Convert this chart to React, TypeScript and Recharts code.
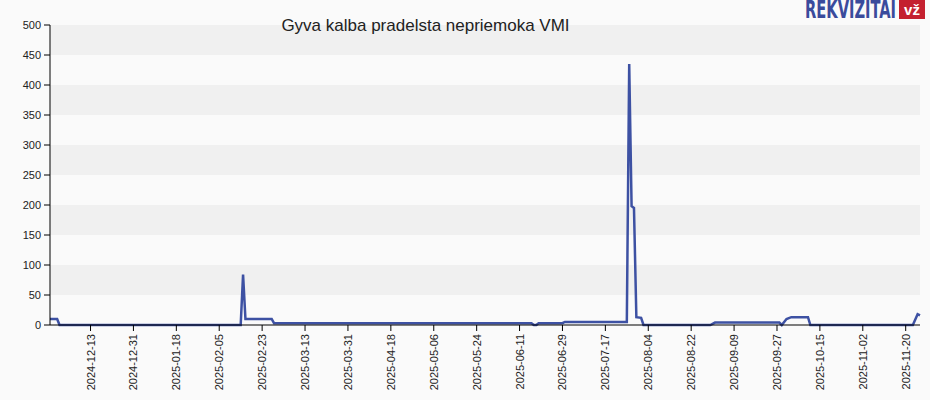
import {CartesianGrid, Line, LineChart, XAxis, YAxis} from "recharts";

const pointDates = [
    '2024-11-26', '2024-11-29', '2024-11-30', '2025-02-14', '2025-02-15', '2025-02-16',
    '2025-02-27', '2025-02-28', '2025-06-16', '2025-06-17', '2025-06-18', '2025-06-19',
    '2025-06-29', '2025-06-30', '2025-07-26', '2025-07-27', '2025-07-28', '2025-07-29',
    '2025-07-30', '2025-08-01', '2025-08-02', '2025-08-30', '2025-09-01', '2025-09-28',
    '2025-09-29', '2025-10-01', '2025-10-03', '2025-10-10', '2025-10-11', '2025-11-23',
    '2025-11-25', '2025-11-26',
];
const debtValues = [
    10, 10, 0, 0, 84, 10,
    10, 3, 3, 0, 0, 3,
    3, 5, 5, 435, 198, 195,
    13, 12, 0, 0, 4, 4,
    0, 10, 13, 13, 0, 0,
    18, 16,
];
const tickDates = [
    '2024-12-13', '2024-12-31', '2025-01-18', '2025-02-05', '2025-02-23', '2025-03-13',
    '2025-03-31', '2025-04-18', '2025-05-06', '2025-05-24', '2025-06-11', '2025-06-29',
    '2025-07-17', '2025-08-04', '2025-08-22', '2025-09-09', '2025-09-27', '2025-10-15',
    '2025-11-02', '2025-11-20',
];
const yTicks = [0, 50, 100, 150, 200, 250, 300, 350, 400, 450, 500];
const rangeStart = '2024-11-26';
const rangeEnd = '2025-11-26';

const toMs = (d: string) => Date.parse(d + 'T00:00:00Z');
const fmtDate = (ms: number) => new Date(ms).toISOString().slice(0, 10);

const data = pointDates.map((d, i) => ({t: toMs(d), value: debtValues[i]}));

const FONT = '"Liberation Sans", Arial, sans-serif';

const DateTick = ({x, y, payload}: any) => (
    <text
        transform={`translate(${x},${y}) rotate(-90)`}
        textAnchor="end"
        dy={4}
        fontSize={11}
        fontFamily={FONT}
        fill="#222"
    >
        {fmtDate(payload.value)}
    </text>
);

export default function App() {
    return (
        <div style={{position: 'absolute', left: 0, top: 0, width: 930, height: 400, background: '#fafafa'}}>
            <LineChart width={930} height={400} data={data} margin={{top: 25, right: 10, bottom: 0, left: 0}}>
                <CartesianGrid vertical={false} stroke="none" horizontalFill={['#f0f0f0', '#fafafa']} />
                <XAxis
                    dataKey="t"
                    type="number"
                    domain={[toMs(rangeStart), toMs(rangeEnd)]}
                    ticks={tickDates.map(toMs)}
                    tick={<DateTick />}
                    tickSize={6}
                    tickMargin={3}
                    height={75}
                    stroke="#000"
                    interval={0}
                />
                <YAxis
                    domain={[0, 500]}
                    ticks={yTicks}
                    width={50}
                    tickSize={6}
                    tickMargin={3}
                    stroke="#000"
                    tick={{fontSize: 11, fontFamily: FONT, fill: '#222'}}
                    interval={0}
                />
                <Line
                    type="linear"
                    dataKey="value"
                    stroke="#3d51a3"
                    strokeWidth={2.5}
                    dot={false}
                    isAnimationActive={false}
                />
                <text x={425.5} y={31} textAnchor="middle" fontSize={17} fontFamily={FONT} fill="#222">
                    Gyva kalba pradelsta nepriemoka VMI
                </text>
                <text
                    x={805}
                    y={18}
                    fontSize={25}
                    fontWeight="bold"
                    fontFamily='"DejaVu Sans Condensed", "DejaVu Sans", sans-serif'
                    fill="#3a4b9c"
                    textLength={91}
                    lengthAdjust="spacingAndGlyphs"
                >
                    REKVIZITAI
                </text>
                <rect x={899} y={0} width={26} height={19} fill="#c4202f" />
                <text x={912} y={15} textAnchor="middle" fontSize={15} fontWeight="bold" fontFamily={FONT} fill="#fff">
                    vž
                </text>
            </LineChart>
        </div>
    );
}
